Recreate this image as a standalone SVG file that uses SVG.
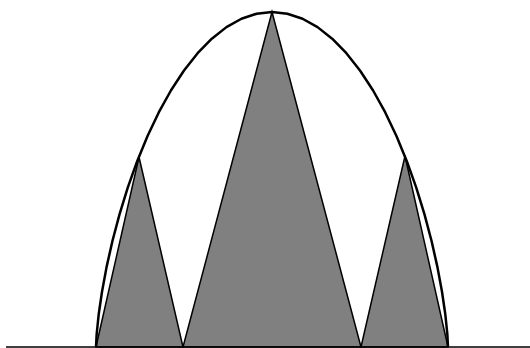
<svg xmlns="http://www.w3.org/2000/svg" width="530" height="348" viewBox="0 0 530 348">
  <style>
    .tri { fill: #808080; stroke: #000; stroke-width: 1.5; stroke-linejoin: miter; }
    .curve { fill: none; stroke: #000; stroke-width: 2.5; stroke-linejoin: round; }
    .base { stroke: #000; stroke-width: 1.5; }
  </style>
  <rect width="530" height="348" fill="#fff"/>
  <g id="triangles">
    <polygon class="tri" points="96,347 139,157 183,347"/>
    <polygon class="tri" points="183,347 272,12 361,347"/>
    <polygon class="tri" points="361,347 405,156 448,347"/>
  </g>
  <path class="curve" d="M96,347 L96.67,334.05 L98.67,314.54 L102,291.74 L106.61,266.87 L112.49,240.75 L119.58,214.06 L127.83,187.35 L137.18,161.16 L147.55,135.96 L158.87,112.2 L171.05,90.24 L184,70.46 L197.62,53.18 L211.8,38.66 L226.45,27.13 L241.44,18.77 L256.66,13.7 L272,12 L287.34,13.7 L302.56,18.77 L317.55,27.13 L332.2,38.66 L346.38,53.18 L360,70.46 L372.95,90.24 L385.13,112.2 L396.45,135.96 L406.82,161.16 L416.17,187.35 L424.42,214.06 L431.51,240.75 L437.39,266.87 L442,291.74 L445.33,314.54 L447.33,334.05 L448,347"/>
  <line class="base" x1="6" y1="347" x2="530" y2="347"/>
</svg>
